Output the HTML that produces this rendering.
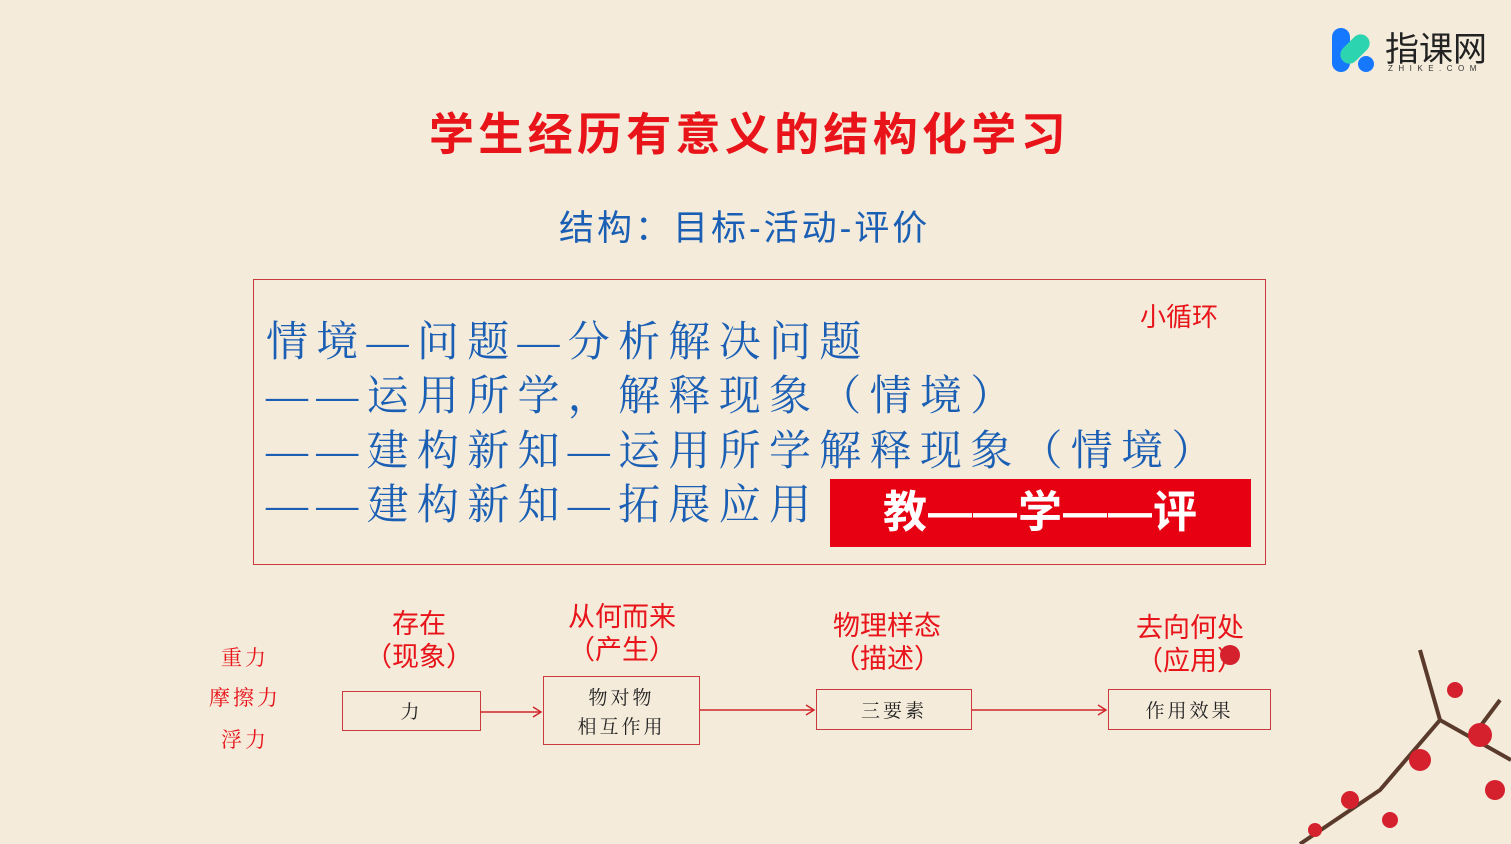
<!DOCTYPE html>
<html><head><meta charset="utf-8"><style>
*{margin:0;padding:0;box-sizing:border-box}
body{width:1511px;height:844px;background:#f4ebdb;position:relative;overflow:hidden;font-family:"Liberation Sans","Noto Sans CJK SC",sans-serif}
.a{position:absolute;white-space:nowrap}
.t{color:#e8141a;font-weight:bold;font-size:45px;left:429px;top:98px;letter-spacing:4.3px}
.s{color:#1a5fb4;font-size:35px;left:559px;top:200px;letter-spacing:3px}
.box{position:absolute;left:253px;top:279px;width:1013px;height:286px;border:1.5px solid #c9393d}
.l{color:#1a5fb4;font-size:42px;left:266px;letter-spacing:8.3px;font-family:"Liberation Serif","Noto Serif CJK SC",serif}
.rb{position:absolute;left:830px;top:479px;width:421px;height:68px;background:#e60012;color:#fff;font-weight:bold;font-size:44px;line-height:68px;text-align:center;letter-spacing:1px}
.n{position:absolute;border:1.5px solid #c9393d;color:#222;font-family:"Noto Serif CJK SC",serif;text-align:center;letter-spacing:3px}
.lab{color:#e8141a;font-size:27px;text-align:center;transform:translateX(-50%);line-height:33px}
.lf{color:#e8141a;font-size:21px;font-family:"Noto Serif CJK SC",serif;letter-spacing:3px;transform:translateX(-50%)}
</style></head><body>
<div class="a" style="left:1330px;top:26px;width:48px;height:48px">
<svg width="50" height="50"><rect x="2" y="2" width="18" height="44" rx="9" fill="#1677ff"/><rect x="16" y="6" width="18" height="34" rx="9" fill="#2dd4b0" transform="rotate(45 25 23)"/><circle cx="36" cy="38" r="8" fill="#1677ff"/></svg></div>
<div class="a" style="left:1385px;top:22px;font-size:34px;color:#222">指课网</div>
<div class="a" style="left:1388px;top:64px;font-size:8px;color:#333;letter-spacing:5.5px">ZHIKE.COM</div>
<div class="a t">学生经历有意义的结构化学习</div>
<div class="a s">结构：目标-活动-评价</div>
<div class="box"></div>
<div class="a" style="left:1140px;top:297px;color:#e8141a;font-size:26px">小循环</div>
<div class="a l" style="top:309px">情境—问题—分析解决问题</div>
<div class="a l" style="top:363px">——运用所学，解释现象（情境）</div>
<div class="a l" style="top:418px">——建构新知—运用所学解释现象（情境）</div>
<div class="a l" style="top:472px">——建构新知—拓展应用</div>
<div class="rb">教——学——评</div>
<div class="a lf" style="left:245px;top:642px">重力</div>
<div class="a lf" style="left:245px;top:682px">摩擦力</div>
<div class="a lf" style="left:245px;top:724px">浮力</div>
<div class="a lab" style="left:419px;top:608px">存在<br>（现象）</div>
<div class="a lab" style="left:622px;top:601px">从何而来<br>（产生）</div>
<div class="a lab" style="left:887px;top:610px">物理样态<br>（描述）</div>
<div class="a lab" style="left:1190px;top:612px">去向何处<br>（应用）</div>
<div class="n" style="left:342px;top:691px;width:139px;height:40px;line-height:38px;font-size:19px">力</div>
<div class="n" style="left:543px;top:676px;width:157px;height:69px;padding-top:5px;font-size:19px;line-height:29px">物对物<br>相互作用</div>
<div class="n" style="left:816px;top:689px;width:156px;height:41px;line-height:39px;font-size:19px">三要素</div>
<div class="n" style="left:1108px;top:689px;width:163px;height:41px;line-height:39px;font-size:19px">作用效果</div>
<svg class="a" style="left:0;top:0" width="1511" height="844">
<g stroke="#d0262b" stroke-width="1.5" fill="none">
<line x1="481" y1="712" x2="541" y2="712"/><polyline points="533,707 541,712 533,717"/>
<line x1="700" y1="710" x2="814" y2="710"/><polyline points="806,705 814,710 806,715"/>
<line x1="972" y1="710" x2="1106" y2="710"/><polyline points="1098,705 1106,710 1098,715"/>
</g>
<g stroke="#5a3a2a" stroke-width="4" fill="none"><path d="M1511 760 L1440 720 L1380 790 L1300 844"/><path d="M1440 720 L1420 650"/><path d="M1470 740 L1500 700"/></g>
<g fill="#d5212e"><circle cx="1230" cy="655" r="10"/><circle cx="1480" cy="735" r="12"/><circle cx="1420" cy="760" r="11"/><circle cx="1350" cy="800" r="9"/><circle cx="1455" cy="690" r="8"/><circle cx="1495" cy="790" r="10"/><circle cx="1390" cy="820" r="8"/><circle cx="1315" cy="830" r="7"/></g>
</svg>
</body></html>
